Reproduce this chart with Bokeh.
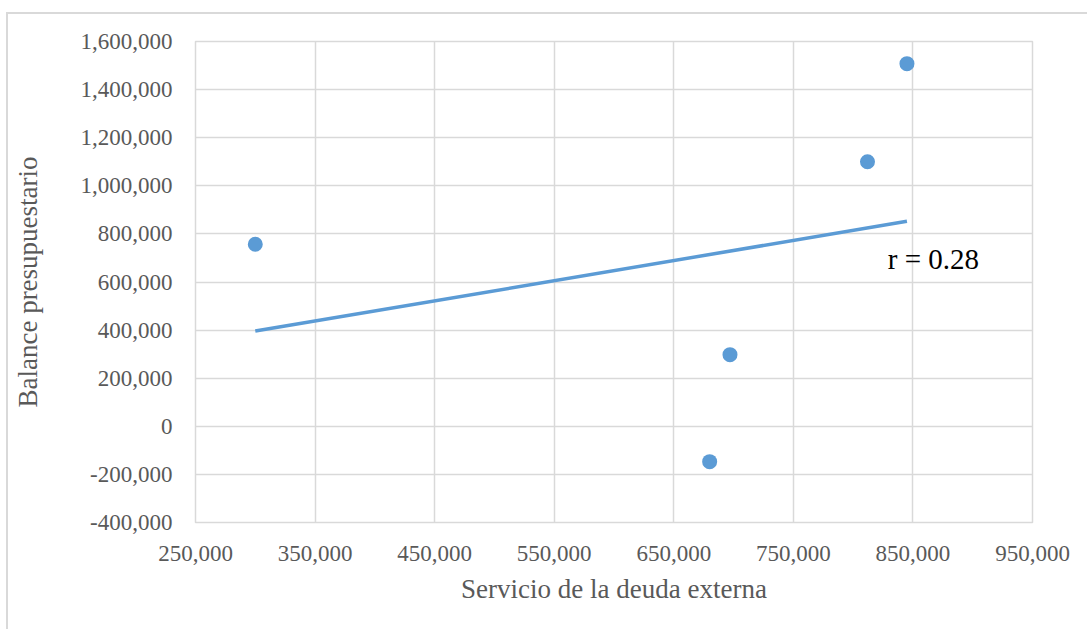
import numpy as np
from bokeh.plotting import figure
from bokeh.models import NumeralTickFormatter, FixedTicker, Range1d, Label
from bokeh.embed import file_html
from bokeh.resources import INLINE

# External debt service vs. budget balance
servicio_deuda = [300000, 680000, 697000, 812000, 845000]
balance = [757000, -147000, 298000, 1100000, 1508000]

x_ticks = [250000, 350000, 450000, 550000, 650000, 750000, 850000, 950000]
y_ticks = [-400000, -200000, 0, 200000, 400000, 600000, 800000,
           1000000, 1200000, 1400000, 1600000]

FONT = "Liberation Serif"
GRID = "#d9d9d9"
BLUE = "#5b9bd5"
TEXT = "#595959"

p = figure(
    width=1081, height=617,
    output_backend="svg", toolbar_location=None,
    x_range=Range1d(x_ticks[0], x_ticks[-1]),
    y_range=Range1d(y_ticks[0], y_ticks[-1]),
    min_border_left=187, min_border_right=57,
    min_border_top=27, min_border_bottom=109,
    background_fill_color="white", border_fill_color="white",
    outline_line_color=GRID, outline_line_width=1.5,
)
p.margin = (12, 0, 0, 6)
p.styles = {"border-left": f"2px solid {GRID}", "border-top": f"2px solid {GRID}"}

# grid
p.xaxis.ticker = FixedTicker(ticks=x_ticks)
p.yaxis.ticker = FixedTicker(ticks=y_ticks)
for g in (p.xgrid, p.ygrid):
    g.grid_line_color = GRID
    g.grid_line_width = 1.5

# axes
for ax in (p.xaxis, p.yaxis):
    ax.formatter = NumeralTickFormatter(format="0,0")
    ax.axis_line_color = None
    ax.major_tick_line_color = None
    ax.minor_tick_line_color = None
    ax.major_label_text_font = FONT
    ax.major_label_text_font_size = "23px"
    ax.major_label_text_color = TEXT
    ax.axis_label_text_font = FONT
    ax.axis_label_text_font_size = "27px"
    ax.axis_label_text_color = TEXT
    ax.axis_label_text_font_style = "normal"

p.xaxis.axis_label = "Servicio de la deuda externa"
p.yaxis.axis_label = "Balance presupuestario"
p.yaxis.major_label_standoff = 17
p.xaxis.major_label_standoff = 17
p.yaxis.axis_label_standoff = 35
p.xaxis.axis_label_standoff = 10

# linear trend line
x = np.array(servicio_deuda, dtype=float)
y = np.array(balance, dtype=float)
slope, intercept = np.polyfit(x, y, 1)
r = np.corrcoef(x, y)[0, 1]
xs = np.array([x.min(), x.max()])
p.line(xs, slope * xs + intercept, line_color=BLUE, line_width=3.5)

p.scatter(servicio_deuda, balance, size=15, fill_color=BLUE, line_color=None)

p.add_layout(Label(
    x=829000, y=696000, text=f"r = {r:.2f}",
    text_font=FONT, text_font_size="29px", text_color="black",
    text_baseline="alphabetic",
))

open("out.html", "w").write(file_html(p, INLINE))
